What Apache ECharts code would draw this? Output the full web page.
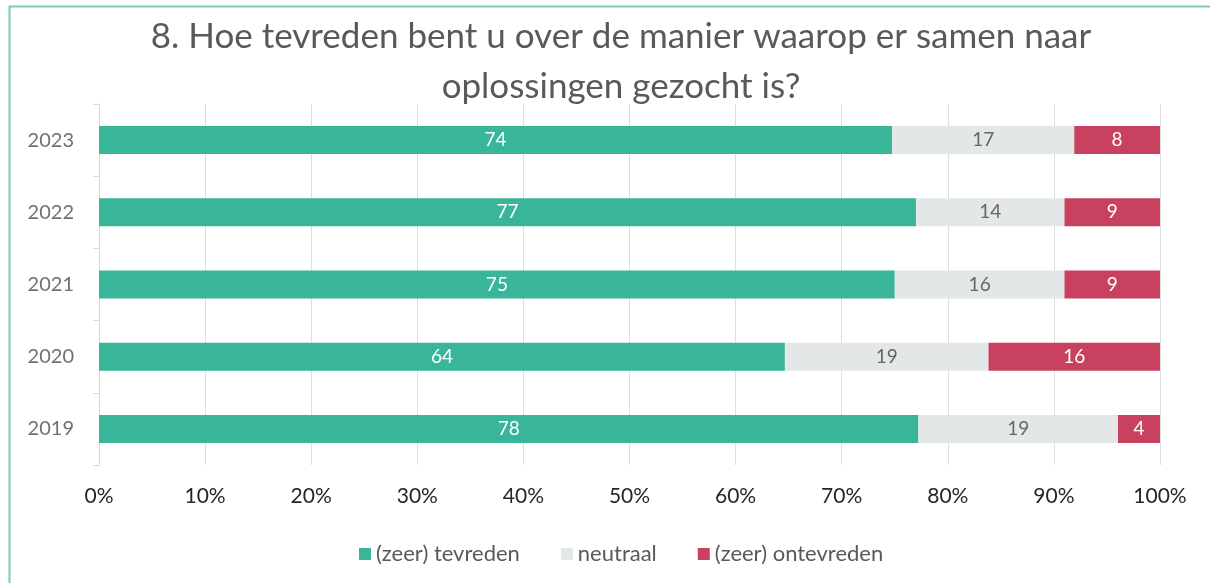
<!DOCTYPE html>
<html>
<head>
<meta charset="utf-8">
<script src="https://cdn.jsdelivr.net/npm/echarts@6/dist/echarts.min.js"></script>
<style>
  html, body { margin: 0; padding: 0; background: #fff; }
  #chart { width: 1210px; height: 583px; }
</style>
</head>
<body>
<div id="chart"></div>
<script>
const years = ["2023", "2022", "2021", "2020", "2019"];
const tevreden = [74, 77, 75, 64, 78];
const neutraal = [17, 14, 16, 19, 19];
const ontevreden = [8, 9, 9, 16, 4];
const xTicks = [0, 10, 20, 30, 40, 50, 60, 70, 80, 90, 100];

const font = "Lato, 'Open Sans', sans-serif";

// bars are shown as share of the row total, labels keep the raw numbers
const totals = years.map((_, i) => tevreden[i] + neutraal[i] + ontevreden[i]);
const toShare = (arr) => arr.map((v, i) => ({ value: (v / totals[i]) * 100, raw: v }));

const chart = echarts.init(document.getElementById("chart"));

const makeSeries = (name, arr, color, labelColor) => ({
  name,
  type: "bar",
  stack: "total",
  barWidth: 28,
  data: toShare(arr),
  itemStyle: { color },
  label: {
    show: true,
    position: "inside",
    color: labelColor,
    fontFamily: font,
    fontSize: 19,
    formatter: (p) => p.data.raw,
  },
});

const option = {
  animation: false,
  graphic: [
    {
      type: "rect",
      shape: { x: 9.5, y: 6.5, width: 1240, height: 620 },
      style: { fill: "none", stroke: "#7ecabd", lineWidth: 2 },
      silent: true,
    },
    {
      type: "text",
      x: 621,
      y: 37,
      style: {
        text: "8. Hoe tevreden bent u over de manier waarop er samen naar",
        fill: "#595959",
        font: "35px " + font,
        textAlign: "center",
        textVerticalAlign: "middle",
      },
    },
    {
      type: "text",
      x: 621,
      y: 87,
      style: {
        text: "oplossingen gezocht is?",
        fill: "#595959",
        font: "35px " + font,
        textAlign: "center",
        textVerticalAlign: "middle",
      },
    },
  ],
  legend: {
    top: 538,
    left: 354,
    itemWidth: 12,
    itemHeight: 12,
    itemGap: 41,
    icon: "rect",
    textStyle: { color: "#595959", fontFamily: font, fontSize: 22 },
    data: ["(zeer) tevreden", "neutraal", "(zeer) ontevreden"],
  },
  grid: { left: 99, right: 50, top: 104, bottom: 118 },
  xAxis: {
    type: "value",
    min: xTicks[0],
    max: xTicks[xTicks.length - 1],
    interval: 10,
    axisLine: { show: false },
    axisTick: { show: false },
    splitLine: { show: true, lineStyle: { color: "#dedede", width: 1 } },
    axisLabel: {
      formatter: "{value}%",
      color: "#262626",
      fontFamily: font,
      fontSize: 21,
      margin: 21,
    },
  },
  yAxis: {
    type: "category",
    inverse: true,
    data: years,
    axisLine: { show: true, lineStyle: { color: "#d9d9d9", width: 1 } },
    axisTick: { show: true, length: 6, lineStyle: { color: "#d9d9d9" } },
    axisLabel: { color: "#707070", fontFamily: font, fontSize: 20, margin: 25 },
  },
  series: [
    makeSeries("(zeer) tevreden", tevreden, "#39b599", "#ffffff"),
    makeSeries("neutraal", neutraal, "#e3e7e7", "#666666"),
    makeSeries("(zeer) ontevreden", ontevreden, "#c8425f", "#ffffff"),
  ],
};

chart.setOption(option);
</script>
</body>
</html>
